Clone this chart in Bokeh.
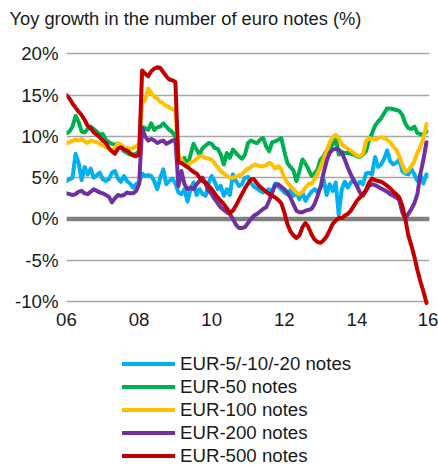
import pandas as pd
from bokeh.plotting import figure
from bokeh.layouts import column
from bokeh.models import (FixedTicker, Span, Legend, LegendItem, Title,
                          ColumnDataSource, PrintfTickFormatter, Range1d)
from bokeh.embed import file_html
from bokeh.resources import INLINE

# ---- data (yoy %, monthly Jan 2006 - Dec 2015) ----
dates = pd.date_range("2006-01-01", periods=120, freq="MS")

eur_5_10_20 = [4.6,4.8,5.0,7.9,6.8,4.7,6.3,5.4,6.1,5.0,5.3,5.6,
 4.8,4.6,4.8,5.6,5.8,4.9,4.5,5.2,4.6,4.3,3.8,4.2,
 4.4,5.5,5.2,5.3,5.2,4.6,3.6,5.0,6.0,4.2,4.6,4.9,
 4.3,3.2,3.0,3.6,2.1,3.6,4.4,2.9,3.6,3.0,2.8,4.4,
 5.2,4.5,3.6,4.0,2.8,3.6,2.9,5.4,4.6,4.0,4.2,5.0,
 5.1,4.3,3.9,3.7,3.4,3.2,3.4,3.6,3.3,4.3,3.9,3.6,
 3.2,3.0,3.5,2.8,3.2,2.4,3.2,2.2,2.8,3.3,3.6,3.2,
 3.8,4.8,2.9,4.2,3.4,4.4,0.5,3.6,4.5,3.8,4.4,4.8,
 4.0,4.5,4.2,5.5,5.6,5.4,7.5,6.3,6.6,7.3,8.3,7.0,
 6.6,6.8,7.2,5.8,5.5,5.4,6.1,5.4,4.6,5.3,4.3,5.4]

eur_50 = [10.4,10.6,11.2,12.5,11.8,10.6,10.5,10.9,11.2,10.9,10.6,10.2,
 10.3,9.6,9.3,9.1,9.0,9.1,8.8,8.2,8.0,7.8,7.8,7.9,
 8.2,11.2,11.0,10.8,11.6,10.8,11.1,11.2,11.6,11.2,10.8,10.5,
 10.0,7.0,6.8,7.4,6.3,7.8,9.1,8.4,7.8,8.6,8.9,9.2,
 9.1,8.6,8.5,7.8,6.6,8.0,7.4,8.4,8.0,7.6,7.3,7.8,
 9.2,9.5,9.3,9.2,9.6,9.8,8.8,8.2,9.3,9.4,9.6,9.8,
 8.2,6.8,6.3,5.9,4.6,5.8,7.2,6.7,6.0,5.2,5.5,6.0,
 7.2,7.6,8.3,8.6,9.0,9.9,7.8,8.1,8.0,8.0,7.9,7.8,
 7.6,7.5,7.8,8.2,9.5,10.4,11.3,11.8,12.2,12.8,13.4,13.4,
 13.3,13.2,13.1,12.6,11.6,11.0,10.9,11.2,10.4,10.3,10.2,10.6]

eur_100 = [9.2,9.3,9.5,9.6,9.5,9.7,9.4,9.2,9.5,9.4,9.3,9.1,
 8.9,8.7,8.5,8.3,8.6,9.2,9.0,8.6,8.6,8.5,8.6,8.8,
 9.1,14.0,14.4,15.8,15.3,14.8,14.6,14.2,14.0,13.7,13.5,13.3,
 13.2,7.6,7.2,6.6,6.5,6.8,7.0,7.3,7.6,7.6,7.4,7.3,
 7.2,6.7,6.3,5.8,5.5,5.2,5.0,5.0,5.1,5.3,5.4,5.8,
 6.1,6.3,6.6,6.5,6.4,6.4,6.5,6.8,6.6,6.1,6.4,6.0,
 5.0,4.4,4.0,3.6,3.2,3.0,3.3,3.8,4.2,4.3,4.8,5.5,
 6.3,7.3,8.2,9.2,9.9,10.2,9.8,9.0,8.8,8.5,8.3,8.0,
 7.7,7.6,7.9,9.4,9.8,9.7,9.6,9.8,9.9,9.8,9.6,9.3,
 8.8,8.4,7.6,6.6,5.7,5.9,6.4,7.0,8.0,8.8,9.8,11.5]

eur_200 = [3.1,3.0,2.9,3.0,3.3,3.4,3.1,3.0,3.3,3.6,3.4,3.2,
 3.1,2.9,2.7,2.0,2.5,2.9,2.8,2.9,3.2,3.1,3.1,3.4,
 4.2,11.0,10.0,9.5,9.7,9.5,9.2,9.4,9.5,9.1,9.3,9.5,
 9.6,4.0,5.8,4.2,3.6,3.8,3.6,4.2,4.6,5.0,4.2,3.4,
 3.0,2.4,1.9,1.4,1.1,0.8,0.6,0.0,-0.7,-1.1,-1.1,-1.0,
 -0.5,0.0,0.4,0.6,0.9,1.2,1.4,2.2,3.2,4.1,4.2,3.9,
 3.6,3.2,2.6,1.8,1.0,0.8,0.8,1.0,1.1,1.2,1.8,2.8,
 3.9,5.6,7.0,8.0,8.4,8.5,8.4,8.0,7.2,6.2,5.4,4.6,
 4.0,3.2,2.8,3.4,4.0,4.2,4.1,3.9,3.7,3.5,3.3,3.0,
 2.8,2.6,2.3,0.8,0.1,0.6,1.2,1.9,3.0,5.5,7.2,9.3]

eur_500 = [15.0,14.6,14.0,13.5,13.0,12.6,12.0,11.3,11.0,10.5,10.2,9.9,
 9.5,9.2,8.6,8.2,7.9,8.5,8.7,8.4,8.3,8.0,7.7,7.6,
 7.8,18.0,17.6,17.3,17.9,18.2,18.4,18.3,17.8,17.3,16.9,16.8,
 16.6,6.8,6.8,6.5,6.3,6.0,5.7,5.5,5.0,4.6,4.4,4.0,
 3.6,3.1,2.6,2.2,1.8,1.3,0.7,1.0,1.6,2.3,3.0,3.7,
 4.3,4.8,4.8,4.3,3.9,3.6,3.3,3.0,2.8,2.6,2.3,1.9,
 0.8,-0.6,-1.5,-2.0,-2.3,-2.0,-1.0,-0.5,-1.0,-1.9,-2.5,-2.8,
 -2.9,-2.6,-2.1,-1.4,-0.6,-0.2,0.1,0.1,0.4,0.6,1.0,1.6,
 2.2,2.6,3.0,3.5,4.4,4.9,4.7,4.6,4.5,4.3,4.0,3.7,
 3.3,3.0,2.6,1.6,0.0,-2.0,-3.2,-4.6,-6.2,-7.6,-8.8,-10.2]

series_names = ["EUR-5/-10/-20 notes", "EUR-50 notes", "EUR-100 notes",
                "EUR-200 notes", "EUR-500 notes"]
series_values = [eur_5_10_20, eur_50, eur_100, eur_200, eur_500]
series_colors = ["#00B0F0", "#00B050", "#FFC000", "#7030A0", "#C00000"]

x_tick_years = [2006, 2008, 2010, 2012, 2014, 2016]
x_tick_labels = ["06", "08", "10", "12", "14", "16"]
y_ticks = [-10, -5, 0, 5, 10, 15, 20]
title_text = "Yoy growth in the number of euro notes (%)"

FONT = "Liberation Sans"
FS = "14pt"
TXT = "#1a1a1a"
W = 438

xfrac = [d.year + (d.month - 1) / 12 for d in dates]
src = ColumnDataSource({"x": xfrac, **{f"s{i}": v for i, v in enumerate(series_values)}})

# ---- title strip ----
pt = figure(width=W, height=36, output_backend="svg", toolbar_location=None,
            x_axis_location=None, y_axis_location=None, min_border=0,
            x_range=Range1d(0, 1), y_range=Range1d(0, 1),
            outline_line_color=None)
pt.grid.visible = False
pt.title = Title(text=title_text, align="left", vertical_align="bottom",
                 offset=-57, standoff=10, text_font=FONT, text_font_size="18.3px",
                 text_font_style="normal", text_color=TXT)

# ---- main chart ----
p = figure(width=W, height=304, output_backend="svg", toolbar_location=None,
           x_range=Range1d(2006, 2016), y_range=Range1d(-10.5, 20.3),
           min_border_left=66, min_border_right=9, min_border_top=15,
           min_border_bottom=35, outline_line_color=None,
           background_fill_color="white", border_fill_color="white")

p.xgrid.grid_line_color = None
p.ygrid.ticker = FixedTicker(ticks=y_ticks)
p.ygrid.grid_line_color = "#a6a6a6"
p.ygrid.grid_line_width = 1.3

p.xaxis.ticker = FixedTicker(ticks=x_tick_years)
p.xaxis.major_label_overrides = {y: l for y, l in zip(x_tick_years, x_tick_labels)}
p.yaxis.ticker = FixedTicker(ticks=y_ticks)
p.yaxis.formatter = PrintfTickFormatter(format="%d%%")
for ax in (p.xaxis[0], p.yaxis[0]):
    ax.axis_line_color = None
    ax.major_tick_line_color = None
    ax.minor_tick_line_color = None
    ax.major_tick_out = 0
    ax.major_tick_in = 0
    ax.major_label_text_font = FONT
    ax.major_label_text_font_size = FS
    ax.major_label_text_color = TXT
p.xaxis.major_label_standoff = 7
p.yaxis.major_label_standoff = 8

p.add_layout(Span(location=0, dimension="width", line_color="#7f7f7f",
                  line_width=4.5, level="underlay"))

for i, col in enumerate(series_colors):
    p.line("x", f"s{i}", source=src, line_color=col, line_width=4,
           line_join="round", line_cap="round")

# ---- legend strip (series drawn off-range; only their legend swatches show) ----
pl = figure(width=W, height=127, output_backend="svg", toolbar_location=None,
            x_axis_location=None, y_axis_location=None, min_border=0,
            x_range=Range1d(0, 1), y_range=Range1d(0, 1),
            outline_line_color=None)
pl.grid.visible = False
items = []
for i, (name, col) in enumerate(zip(series_names, series_colors)):
    r = pl.line("x", f"s{i}", source=src, line_color=col, line_width=4,
                line_cap="round")
    items.append(LegendItem(label=name, renderers=[r]))
legend = Legend(items=items, location=(56, 0), orientation="vertical",
                glyph_width=53, glyph_height=23, label_height=23, spacing=0,
                label_standoff=5, padding=0, margin=0,
                border_line_color=None, background_fill_alpha=0,
                label_text_font=FONT, label_text_font_size=FS,
                label_text_color=TXT)
pl.add_layout(legend, "center")

layout = column(pt, p, pl, spacing=0)
open("out.html", "w").write(file_html(layout, INLINE))
